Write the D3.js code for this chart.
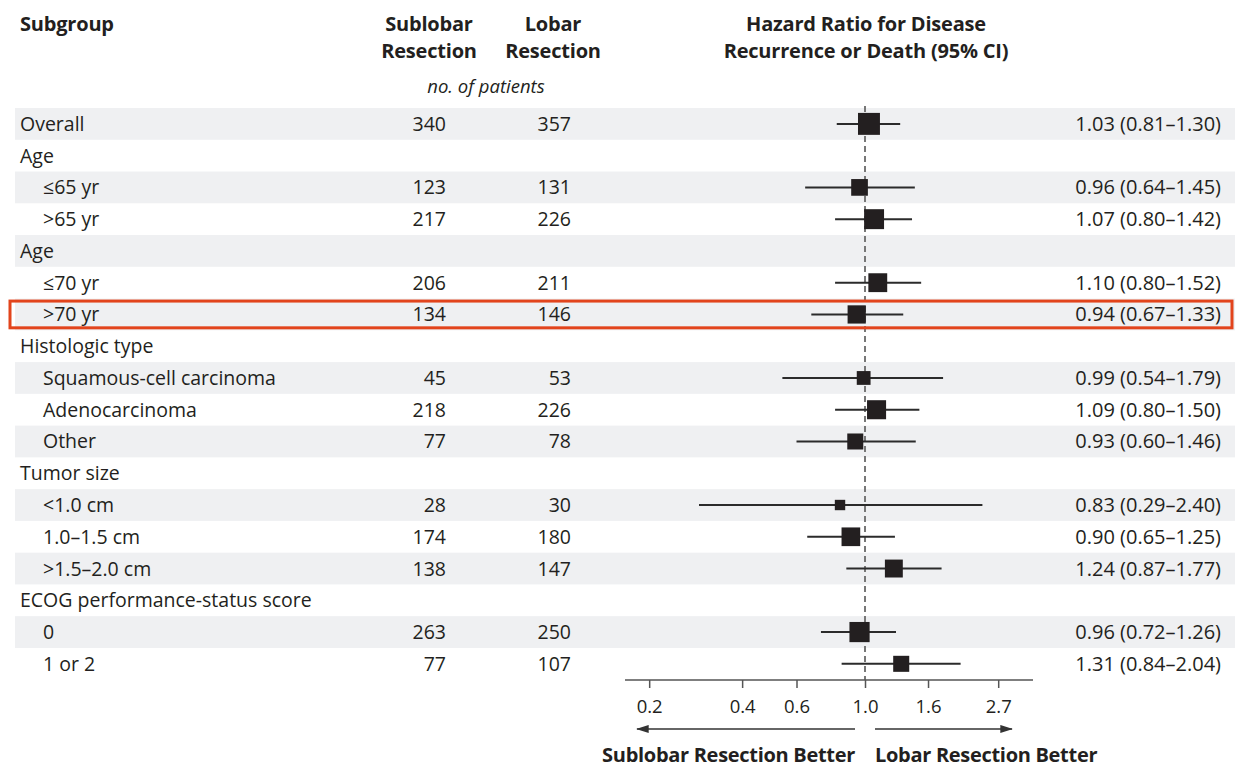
<!DOCTYPE html>
<html>
<head>
<meta charset="utf-8">
<script src="https://cdn.jsdelivr.net/npm/d3@7"></script>
<style>
  html, body { margin: 0; padding: 0; background: #fff; }
  svg { display: block; font-family: "Open Sans", Lato, sans-serif; }
</style>
</head>
<body>
<svg id="chart" width="1235" height="769"></svg>
<script>
// Subgroup rows, in display order
const labels = ["Overall", "Age", "≤65 yr", ">65 yr", "Age", "≤70 yr", ">70 yr",
  "Histologic type", "Squamous-cell carcinoma", "Adenocarcinoma", "Other",
  "Tumor size", "<1.0 cm", "1.0–1.5 cm", ">1.5–2.0 cm",
  "ECOG performance-status score", "0", "1 or 2"];
const isSubItem = [false, false, true, true, false, true, true, false, true, true, true,
  false, true, true, true, false, true, true];
const sublobarN = [340, null, 123, 217, null, 206, 134, null, 45, 218, 77, null, 28, 174, 138, null, 263, 77];
const lobarN    = [357, null, 131, 226, null, 211, 146, null, 53, 226, 78, null, 30, 180, 147, null, 250, 107];
const hazard    = [1.03, null, 0.96, 1.07, null, 1.10, 0.94, null, 0.99, 1.09, 0.93, null, 0.83, 0.90, 1.24, null, 0.96, 1.31];
const ciLow     = [0.81, null, 0.64, 0.80, null, 0.80, 0.67, null, 0.54, 0.80, 0.60, null, 0.29, 0.65, 0.87, null, 0.72, 0.84];
const ciHigh    = [1.30, null, 1.45, 1.42, null, 1.52, 1.33, null, 1.79, 1.50, 1.46, null, 2.40, 1.25, 1.77, null, 1.26, 2.04];
const axisTicks = [0.2, 0.4, 0.6, 1.0, 1.6, 2.7];
const highlightRow = 6;

const svg = d3.select("#chart");
const ink = "#231f20";
const fmt = d3.format(".2f");

const rows = labels.map((label, i) => ({
  i, label, sub: isSubItem[i], nS: sublobarN[i], nL: lobarN[i],
  hr: hazard[i], lo: ciLow[i], hi: ciHigh[i]
}));

const y = d3.scaleBand().domain(d3.range(labels.length)).range([108, 679.7]).paddingInner(0);
const x = d3.scaleLog().domain([0.167, 3.5]).range([625, 1033]);

// alternating row shading
svg.append("g").selectAll("rect").data(rows.filter(r => r.i % 2 === 0)).join("rect")
  .attr("x", 15).attr("width", 1220)
  .attr("y", r => y(r.i)).attr("height", y.bandwidth())
  .attr("fill", "#eff0f2");

// column headers
const head = svg.append("g").attr("fill", ink).attr("font-weight", 700).attr("font-size", 20)
  .attr("letter-spacing", -0.2);
head.append("text").attr("x", 20).attr("y", 31).text("Subgroup");
[["Sublobar", "Resection", 429], ["Lobar", "Resection", 553]].forEach(([a, b, cx]) => {
  head.append("text").attr("x", cx).attr("y", 31).attr("text-anchor", "middle").text(a);
  head.append("text").attr("x", cx).attr("y", 58).attr("text-anchor", "middle").text(b);
});
head.append("text").attr("x", 866).attr("y", 31).attr("text-anchor", "middle").text("Hazard Ratio for Disease");
head.append("text").attr("x", 866).attr("y", 58).attr("text-anchor", "middle").text("Recurrence or Death (95% CI)");
svg.append("text").attr("x", 486).attr("y", 93).attr("text-anchor", "middle")
  .attr("font-style", "italic").attr("font-size", 18.5).attr("fill", ink).text("no. of patients");

// row text
const rowText = svg.append("g").attr("fill", ink).attr("font-size", 19.5);
const cy = i => y(i) + y.bandwidth() / 2 + 7;
rowText.selectAll(".lab").data(rows).join("text")
  .attr("x", r => r.sub ? 43 : 20).attr("y", r => cy(r.i)).text(r => r.label);
rowText.selectAll(".ns").data(rows.filter(r => r.nS != null)).join("text")
  .attr("x", 446).attr("y", r => cy(r.i)).attr("text-anchor", "end").text(r => r.nS);
rowText.selectAll(".nl").data(rows.filter(r => r.nL != null)).join("text")
  .attr("x", 571).attr("y", r => cy(r.i)).attr("text-anchor", "end").text(r => r.nL);
rowText.selectAll(".hr").data(rows.filter(r => r.hr != null)).join("text")
  .attr("x", 1221).attr("y", r => cy(r.i)).attr("text-anchor", "end").attr("font-size", 20)
  .text(r => `${fmt(r.hr)} (${fmt(r.lo)}–${fmt(r.hi)})`);

// reference line at HR = 1
svg.append("line").attr("x1", x(1)).attr("x2", x(1)).attr("y1", 106).attr("y2", 680)
  .attr("stroke", "#777").attr("stroke-width", 2).attr("stroke-dasharray", "6,4");

// confidence intervals and point estimates (box area ∝ precision)
const est = rows.filter(r => r.hr != null);
const marks = svg.append("g");
marks.selectAll("line").data(est).join("line")
  .attr("x1", r => x(r.lo)).attr("x2", r => x(r.hi))
  .attr("y1", r => y(r.i) + y.bandwidth() / 2).attr("y2", r => y(r.i) + y.bandwidth() / 2)
  .attr("stroke", "#2b2b2b").attr("stroke-width", 2);
const side = r => 15.1 / Math.sqrt(Math.log(r.hi / r.lo));
marks.selectAll("rect").data(est).join("rect")
  .attr("x", r => x(r.hr) - side(r) / 2).attr("y", r => y(r.i) + y.bandwidth() / 2 - side(r) / 2)
  .attr("width", side).attr("height", side).attr("fill", "#231f20");

// x axis
const axis = svg.append("g").attr("transform", "translate(0,680)")
  .call(d3.axisBottom(x).tickValues(axisTicks).tickFormat(d3.format(".1f")).tickSize(8).tickPadding(12));
axis.select(".domain").attr("stroke", "#555").attr("stroke-width", 1.5).attr("d", `M${x.range()[0]},0H${x.range()[1]}`);
axis.selectAll(".tick line").attr("stroke", "#555").attr("stroke-width", 1.5);
axis.selectAll(".tick text").attr("font-family", "'Open Sans', sans-serif").attr("font-size", 18.5).attr("fill", ink);

// direction arrows
const defs = svg.append("defs");
defs.append("marker").attr("id", "head").attr("viewBox", "0 0 14 10").attr("refX", 13).attr("refY", 5)
  .attr("markerWidth", 14).attr("markerHeight", 9).attr("markerUnits", "userSpaceOnUse")
  .attr("orient", "auto")
  .append("path").attr("d", "M0,0.5 L14,5 L0,9.5 Z").attr("fill", "#333");
svg.append("line").attr("x1", 855).attr("x2", 637).attr("y1", 729).attr("y2", 729)
  .attr("stroke", "#333").attr("stroke-width", 1.5).attr("marker-end", "url(#head)");
svg.append("line").attr("x1", 875).attr("x2", 1012).attr("y1", 729).attr("y2", 729)
  .attr("stroke", "#333").attr("stroke-width", 1.5).attr("marker-end", "url(#head)");
const foot = svg.append("g").attr("fill", ink).attr("font-weight", 700).attr("font-size", 20)
  .attr("letter-spacing", -0.3);
foot.append("text").attr("x", 855).attr("y", 762).attr("text-anchor", "end").text("Sublobar Resection Better");
foot.append("text").attr("x", 875).attr("y", 762).text("Lobar Resection Better");

// highlighted row
svg.append("rect").attr("x", 10).attr("y", y(highlightRow) + 2.5)
  .attr("width", 1222).attr("height", y.bandwidth() - 5)
  .attr("fill", "none").attr("stroke", "#e2441c").attr("stroke-width", 3);
</script>
</body>
</html>
